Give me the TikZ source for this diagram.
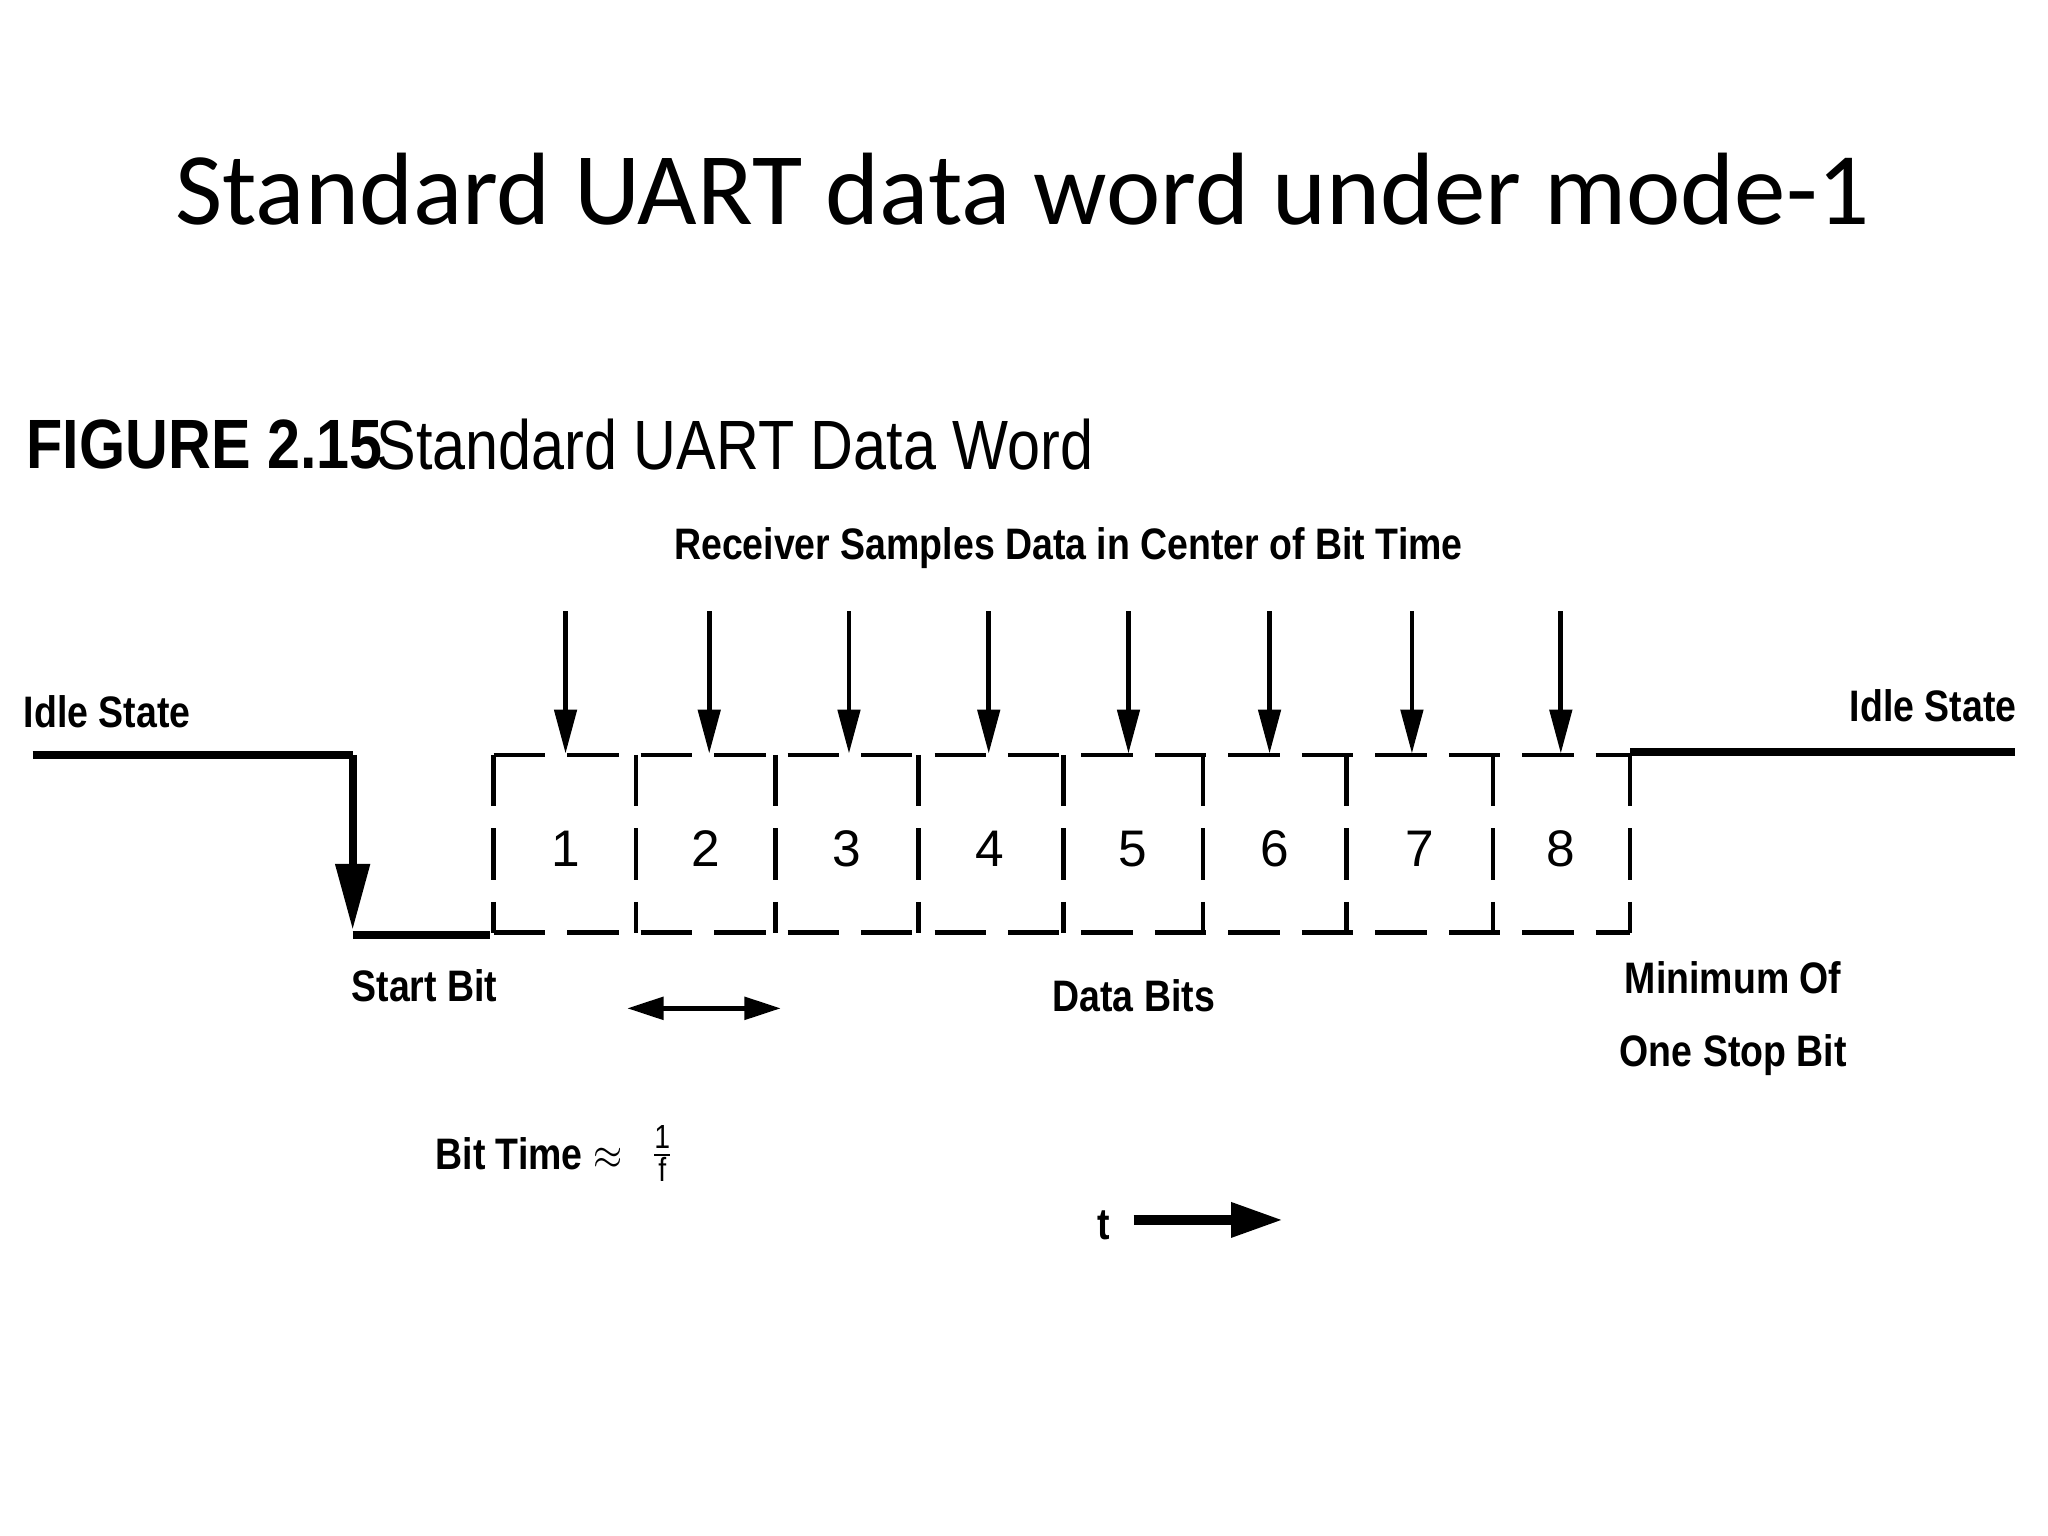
\documentclass[tikz,border=0pt]{standalone}
\usepackage{fontspec}
\setmainfont{Liberation Sans}
\newfontfamily\titlefont{Carlito}
\usetikzlibrary{arrows.meta}
\begin{document}
\begin{tikzpicture}[x=0.0125cm,y=-0.0125cm,
  sig/.style={line width=2.2pt},
  dsh/.style={line width=1.3pt,dash pattern=on 14pt off 6pt},
  samp/.style={line width=1.3pt,-{Triangle[length=12pt,width=6pt]}},
  lbl/.style={font=\fontsize{12}{14}\selectfont\bfseries,inner sep=0pt,xscale=0.85},
  num/.style={font=\fontsize{14}{16}\selectfont,inner sep=0pt}]
\useasboundingbox (0,0) rectangle (1568,1176);
\node[font=\titlefont\fontsize{28}{32}\selectfont] (title) at (783,145) {Standard UART data word under mode-1};
\node[anchor=west,inner sep=0pt,font=\fontsize{19}{22}\selectfont\bfseries,xscale=0.85] (fig) at (20,340) {FIGURE 2.15};
\node[anchor=west,inner sep=0pt,font=\fontsize{19}{22}\selectfont,xscale=0.85] (figt) at (288,340) {Standard UART Data Word};
\node[lbl] (recv) at (818,420) {Receiver Samples Data in Center of Bit Time};
% signal
\coordinate (i0) at (25,578); \coordinate (i1) at (270,578);
\coordinate (d1) at (270,712); \coordinate (s0) at (270,716); \coordinate (s1) at (375,716);
\draw[sig] (i0) -- (i1);
\draw[sig,-{Triangle[length=18pt,width=9pt]}] (i1) -- (d1);
\draw[sig] (s0) -- (s1);
\coordinate (r0) at (1248,576); \coordinate (r1) at (1543,576);
\draw[sig] (r0) -- (r1);
% dashed frame
\draw[dsh] (378,578) -- (1248,578);
\draw[dsh] (378,714) -- (1248,714);
\foreach \x in {378,487,594,703,814,921,1031,1143,1248} \draw[dsh] (\x,578) -- (\x,714);
\foreach \n/\x in {1/433,2/540,3/648,4/758,5/867,6/976,7/1087,8/1195} \node[num] (n\n) at (\x,650) {\n};
\foreach \n/\x in {1/433,2/543,3/650,4/757,5/864,6/972,7/1081,8/1195} {
  \coordinate (a\n) at (\x,468); \coordinate (b\n) at (\x,577);
  \draw[samp] (a\n) -- (b\n);}
\node[lbl] (idl) at (82,545) {Idle State};
\node[lbl] (idr) at (1480,540) {Idle State};
\node[lbl] (sb) at (325,755) {Start Bit};
\node[lbl] (db) at (868,762) {Data Bits};
\node[lbl,align=center,font=\fontsize{12}{20}\selectfont\bfseries] (stop) at (1327,780) {Minimum Of\\One Stop Bit};
\coordinate (w0) at (480,772); \coordinate (w1) at (598,772);
\draw[line width=1.5pt,{Triangle[length=10pt,width=6pt]}-{Triangle[length=10pt,width=6pt]}] (w0) -- (w1);
\node[lbl] (bt) at (405,883) {Bit Time $\approx$};
\node[lbl] (frac) at (507,883) {\fontsize{13}{14}\selectfont$\frac{\mathrm{1}}{\mathrm{f}}$};
\node[lbl] (t) at (845,938) {t};
\coordinate (t0) at (868,934); \coordinate (t1) at (982,934);
\draw[line width=2.5pt,-{Triangle[length=14pt,width=9pt]}] (t0) -- (t1);
\end{tikzpicture}
\end{document}
